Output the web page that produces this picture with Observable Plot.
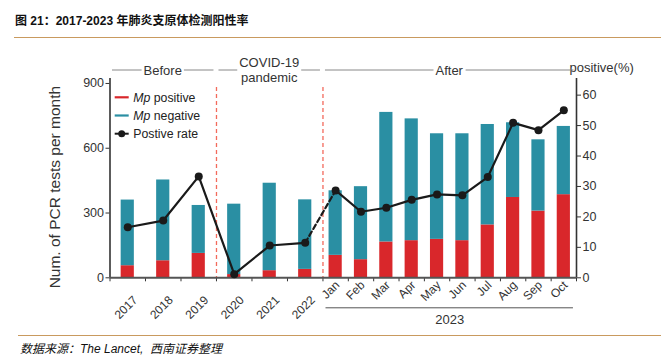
<!DOCTYPE html>
<html><head><meta charset="utf-8">
<script src="https://cdn.jsdelivr.net/npm/d3@7"></script>
<script src="https://cdn.jsdelivr.net/npm/@observablehq/plot@0.6"></script>
<style>
body{margin:0;background:#fff;}
#wrap{position:relative;width:661px;height:358px;overflow:hidden;font-family:"Liberation Sans",Arial,sans-serif;background:#fff;}
#title{position:absolute;left:15px;top:15px;font-weight:bold;font-size:12px;line-height:13px;font-family:"Liberation Sans","Noto Sans CJK SC",sans-serif;color:#111;white-space:nowrap;}
#tline{position:absolute;left:14px;width:647px;top:36.5px;height:0;border-top:1.5px solid #c99a5e;}
#chart{position:absolute;left:0;top:40px;}
#bline{position:absolute;left:18px;width:643px;top:335px;height:0;border-top:1.5px solid #c99a5e;}
#caption{position:absolute;left:20px;top:342.5px;font-style:italic;font-size:12px;line-height:13px;font-family:"Liberation Sans","Noto Sans CJK SC",sans-serif;color:#111;white-space:nowrap;}
</style>
</head><body>
<div id="wrap">
  <div id="title">图 21：2017-2023 年肺炎支原体检测阳性率</div>
  <div id="tline"></div>
  <div id="chart"></div>
  <div id="bline"></div>
  <div id="caption">数据来源：The Lancet,&nbsp; 西南证券整理</div>
</div>
<script>
// ---- data ----
const categories = ["2017","2018","2019","2020","2021","2022","Jan","Feb","Mar","Apr","May","Jun","Jul","Aug","Sep","Oct"];
const periods = ["year","year","year","year","year","year","month","month","month","month","month","month","month","month","month","month"];
const mpPositive = [56, 79, 113, 15, 33, 39, 104, 84, 166, 172, 178, 172, 245, 372, 309, 385];
const mpNegative = [304, 374, 222, 326, 405, 322, 299, 338, 600, 564, 489, 495, 465, 346, 330, 316];
const positiveRate = [16.6, 18.8, 33.3, 1.2, 10.6, 11.5, 28.7, 21.7, 23.0, 25.6, 27.4, 27.1, 33.1, 50.9, 48.5, 55.0];
const leftTicks = [0, 300, 600, 900];
const rightTicks = [0, 10, 20, 30, 40, 50, 60];
const groupLabels = ["Before", "COVID-19\npandemic", "After"];
const groupStarts = ["2017", "2020", "Jan"];
const groupEnds = ["2019", "2022", "Oct"];
const yearLabel2023 = "2023";
const yLabel = "Num. of PCR tests per month";
const rightLabel = "positive(%)";
const legendLabels = [["Mp", " positive"], ["Mp", " negative"], ["", "Postive rate"]];

// ---- scale configuration ----
const bandWeight = {year: 1.4, month: 1};
const yMax = 923;
const rateToCount = 14.1;   // dual axis ratio
const barHalf = 0.26;
const RED = "#d9272b", TEAL = "#2a8fa3", INK = "#1a1a1a", AX = "#333";

let acc = 0;
const rows = categories.map((c, i) => {
  const w = bandWeight[periods[i]];
  const r = {cat: c, period: periods[i], x0: acc, x1: acc + w, xc: acc + w / 2,
             pos: mpPositive[i], neg: mpNegative[i], rate: positiveRate[i]};
  acc += w;
  return r;
});
const xMax = acc;
const byCat = Object.fromEntries(rows.map(r => [r.cat, r]));
const groups = groupLabels.map((g, i) => ({label: g, x0: byCat[groupStarts[i]].x0, x1: byCat[groupEnds[i]].x1}));
const boundaries = [...rows.map(r => r.x0), xMax];
const years = rows.filter(r => r.period === "year");
const months = rows.filter(r => r.period === "month");
const bridge = [years[years.length - 1], months[0]];

const plot = Plot.plot({
  width: 661, height: 293,
  marginTop: 38, marginBottom: 55.7, marginLeft: 109.5, marginRight: 85,
  style: {fontFamily: "'Liberation Sans', Arial, sans-serif", fontSize: "12px", color: AX, background: "#fff", overflow: "visible"},
  x: {type: "linear", domain: [0, xMax], axis: null},
  y: {domain: [0, yMax], axis: null},
  marks: [
    // period separators
    Plot.ruleX(groups.slice(1).map(g => g.x0), {stroke: "#f36a5c", strokeWidth: 1.3, strokeDasharray: "4,3", insetTop: 9}),
    // stacked bars
    Plot.rect(rows, {x1: d => d.xc - barHalf, x2: d => d.xc + barHalf, y1: 0, y2: d => d.pos, fill: RED}),
    Plot.rect(rows, {x1: d => d.xc - barHalf, x2: d => d.xc + barHalf, y1: d => d.pos, y2: d => d.pos + d.neg, fill: TEAL}),
    // axes
    Plot.axisY({ticks: leftTicks, tickSize: 4, tickPadding: 2, label: null, fontSize: 12.5, stroke: AX}),
    Plot.axisY({anchor: "right", ticks: rightTicks.map(v => v * rateToCount), tickFormat: d => String(Math.round(d / rateToCount)), tickSize: 4, tickPadding: 2, label: null, fontSize: 12.5}),
    Plot.axisX({ticks: boundaries, tickFormat: () => "", tickSize: 4, label: null}),
    Plot.ruleX([0, xMax], {stroke: AX, strokeWidth: 1.6}),
    Plot.ruleY([0], {stroke: "#555", strokeWidth: 2}),
    // positive-rate line
    Plot.line(years, {x: "xc", y: d => d.rate * rateToCount, stroke: INK, strokeWidth: 2.2}),
    Plot.line(bridge, {x: "xc", y: d => d.rate * rateToCount, stroke: INK, strokeWidth: 2.2, strokeDasharray: "5,3"}),
    Plot.line(months, {x: "xc", y: d => d.rate * rateToCount, stroke: INK, strokeWidth: 2.2}),
    Plot.dot(rows, {x: "xc", y: d => d.rate * rateToCount, r: 4, fill: INK}),
    // category labels
    Plot.text(years, {x: "xc", y: 0, text: "cat", rotate: -45, textAnchor: "end", dx: 7.8, dy: 20.3, fontSize: 12, fill: AX}),
    Plot.text(months, {x: "xc", y: 0, text: "cat", rotate: -45, textAnchor: "end", dx: 1.8, dy: 5.3, fontSize: 12, fill: AX}),
    // 2023 bracket
    Plot.ruleY([0], {x1: months[0].x0 + 0.12, x2: xMax - 0.12, dy: 30, stroke: "#555", strokeWidth: 1}),
    Plot.text([yearLabel2023], {x: (months[0].x0 + xMax) / 2, y: 0, text: d => d, dy: 42, fontSize: 13, fill: AX}),
    // axis titles
    Plot.text([yLabel], {frameAnchor: "left", text: d => d, rotate: -90, textAnchor: "middle", dx: -54.5, dy: 9, fontSize: 15.5, fill: AX}),
    Plot.text([rightLabel], {frameAnchor: "top-right", text: d => d, textAnchor: "start", dx: -7, dy: -16, fontSize: 13, fill: AX})
  ]
});
document.getElementById("chart").appendChild(plot);

// ---- period header annotations (through the plot's x scale) ----
const svg = d3.select(plot);
const xs = plot.scale("x");
const topY = 38;
groups.forEach(g => {
  const px0 = xs.apply(g.x0) + 2.5, px1 = xs.apply(g.x1) - 2.5;
  const cx = (xs.apply(g.x0) + xs.apply(g.x1)) / 2;
  const lines = g.label.split("\n");
  const t = svg.append("text").attr("text-anchor", "middle").attr("fill", AX)
    .style("font-size", "13px").style("font-family", "'Liberation Sans', Arial, sans-serif");
  const lh = 15, midY = topY - 8;
  lines.forEach((ln, i) => {
    t.append("tspan").attr("x", cx).attr("y", midY + (i - (lines.length - 1) / 2) * lh).attr("dy", "0.35em").text(ln);
  });
  const bb = t.node().getBBox();
  const segs = [[px0, bb.x - 2], [bb.x + bb.width + 2, px1]];
  segs.forEach(([a, b]) => {
    if (b > a) svg.append("line").attr("x1", a).attr("x2", b).attr("y1", midY).attr("y2", midY)
      .attr("stroke", "#888").attr("stroke-width", 1);
  });
});

// ---- legend ----
const lg = svg.append("g").attr("transform", "translate(114.7,57.3)");
const swatch = [RED, TEAL, INK];
legendLabels.forEach((lab, i) => {
  const gy = i * 18.2;
  lg.append("line").attr("x1", 0).attr("x2", 14).attr("y1", gy).attr("y2", gy)
    .attr("stroke", swatch[i]).attr("stroke-width", i === 2 ? 2 : 2.2);
  if (i === 2) lg.append("circle").attr("cx", 7).attr("cy", gy).attr("r", 3.5).attr("fill", INK);
  const t = lg.append("text").attr("x", 18.5).attr("y", gy).attr("dy", "0.35em").attr("fill", "#222")
    .attr("text-anchor", "start")
    .style("font-size", "12.3px").style("font-family", "'Liberation Sans', Arial, sans-serif");
  if (lab[0]) t.append("tspan").style("font-style", "italic").text(lab[0]);
  t.append("tspan").text(lab[1]);
});
</script>
</body></html>
